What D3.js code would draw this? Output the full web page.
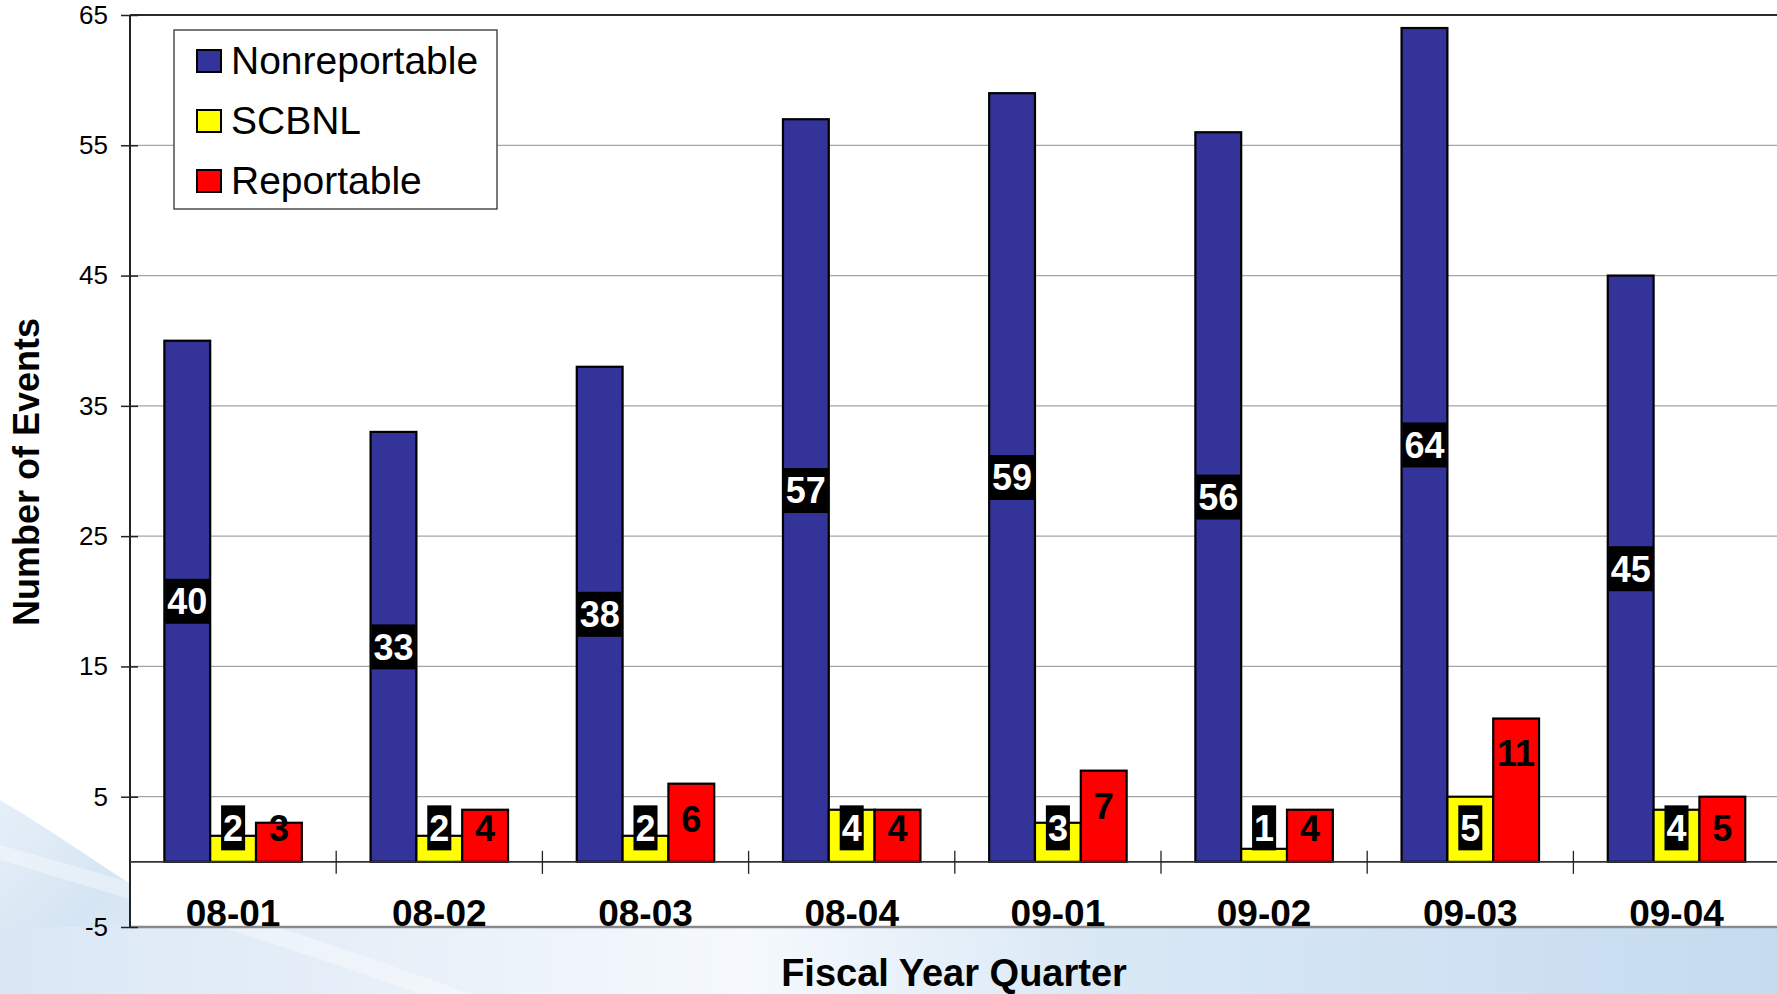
<!DOCTYPE html>
<html>
<head>
<meta charset="utf-8">
<script src="https://cdn.jsdelivr.net/npm/d3@7"></script>
<style>
html,body{margin:0;padding:0;background:#fff;overflow:hidden;}
svg{display:block;}
text{font-family:"Liberation Sans",Arial,sans-serif;}
</style>
</head>
<body>
<svg id="chart" width="1777" height="994"></svg>
<script>
const categories = ["08-01","08-02","08-03","08-04","09-01","09-02","09-03","09-04"];
const seriesNames = ["Nonreportable","SCBNL","Reportable"];
const nonreportable = [40,33,38,57,59,56,64,45];
const scbnl = [2,2,2,4,3,1,5,4];
const reportable = [3,4,6,4,7,4,11,5];
const yTicks = [-5,5,15,25,35,45,55,65];
const seriesColors = ["#333399","#FFFF00","#FF0000"];

(function(){
const W = 1777, H = 994;
const svg = d3.select("#chart");
const defs = svg.append("defs");

// background decoration
const g1 = defs.append("linearGradient").attr("id","bgBottom").attr("x1","0").attr("x2","1").attr("y1","0").attr("y2","0");
[["0%","#d9e7f5"],["25%","#eaf1f9"],["42%","#f5f9fd"],["62%","#d9e8f5"],["100%","#c6dbf0"]].forEach(s=>g1.append("stop").attr("offset",s[0]).attr("stop-color",s[1]));
const g2 = defs.append("linearGradient").attr("id","bgLeft").attr("x1","0").attr("x2","1").attr("y1","0").attr("y2","1");
[["0%","#e6eff8"],["50%","#d6e5f3"],["100%","#e9f1f9"]].forEach(s=>g2.append("stop").attr("offset",s[0]).attr("stop-color",s[1]));

svg.append("rect").attr("width",W).attr("height",H).attr("fill","#fff");
svg.append("path")
  .attr("d","M0,800 C60,835 120,880 200,927 L0,994 Z")
  .attr("fill","url(#bgLeft)");
svg.append("rect").attr("x",0).attr("y",927).attr("width",W).attr("height",H-927).attr("fill","url(#bgBottom)");
svg.append("path")
  .attr("d","M0,860 C150,905 300,950 420,994 L470,994 C340,945 180,895 0,845 Z")
  .attr("fill","#ffffff").attr("opacity",0.35);

const pLeft = 130, pRight = 1779.6, pTop = 15, pBottom = 927;

const y = d3.scaleLinear().domain([-5,65]).range([pBottom, pTop]);
const x0 = d3.scaleBand().domain(categories).range([pLeft, pRight]).paddingInner(1/3).paddingOuter(1/6);
const x1 = d3.scaleBand().domain(seriesNames).range([0, x0.bandwidth()]);
const step = x0.step();

// plot area
svg.append("rect").attr("x",pLeft).attr("y",pTop).attr("width",pRight-pLeft).attr("height",pBottom-pTop).attr("fill","#fff");

// gridlines
const gridG = svg.append("g");
yTicks.forEach(t=>{
  let stroke = "#a6a6a6", sw = 1.3;
  if (t === 65) { stroke = "#2a2a2a"; sw = 2; }
  if (t === -5) { stroke = "#8a8a8a"; sw = 2.5; }
  gridG.append("line").attr("x1",pLeft).attr("x2",pRight).attr("y1",y(t)).attr("y2",y(t))
    .attr("stroke",stroke).attr("stroke-width",sw);
});

// y axis
const yAxis = d3.axisLeft(y).tickValues(yTicks).tickSize(0).tickPadding(22).tickFormat(d=>String(d));
const yg = svg.append("g").attr("transform",`translate(${pLeft},0)`).call(yAxis);
yg.select(".domain").remove();
yg.selectAll("text").attr("font-size",26).attr("fill","#000").attr("font-family","'Liberation Sans',Arial,sans-serif");
yg.selectAll(".tick").append("line").attr("x1",-9).attr("x2",8).attr("stroke","#222").attr("stroke-width",1.5);
svg.append("line").attr("x1",pLeft).attr("x2",pLeft).attr("y1",pTop).attr("y2",pBottom).attr("stroke","#222").attr("stroke-width",2);

// bars
const data = categories.map((c,i)=>({cat:c, vals:[nonreportable[i], scbnl[i], reportable[i]]}));
const catG = svg.selectAll(".cat").data(data).enter().append("g")
  .attr("transform",d=>`translate(${x0(d.cat)},0)`);
catG.selectAll("rect").data(d=>d.vals.map((v,j)=>({v, s:seriesNames[j], j}))).enter().append("rect")
  .attr("x",d=>x1(d.s)).attr("width",x1.bandwidth())
  .attr("y",d=>y(d.v)).attr("height",d=>y(0)-y(d.v))
  .attr("fill",d=>seriesColors[d.j]).attr("stroke","#000").attr("stroke-width",2.2);

// zero line (category axis)
svg.append("line").attr("x1",pLeft).attr("x2",pRight).attr("y1",y(0)).attr("y2",y(0)).attr("stroke","#333").attr("stroke-width",1.6);
categories.forEach((c,i)=>{
  if (i===0) return;
  const bx = x0(c) - step*(1/3)/2;
  svg.append("line").attr("x1",bx).attr("x2",bx).attr("y1",y(0)-11).attr("y2",y(0)+12).attr("stroke","#222").attr("stroke-width",1.3);
});

// category labels
categories.forEach(c=>{
  svg.append("text").attr("x",x0(c)+x0.bandwidth()/2).attr("y",926)
    .attr("text-anchor","middle").attr("font-size",37).attr("font-weight","bold").text(c);
});

// data labels
const fs = 36, capHalf = 0.716*fs/2;
const labelG = svg.append("g");
data.forEach(d=>{
  d.vals.forEach((v,j)=>{
    const s = seriesNames[j];
    const cx = x0(d.cat) + x1(s) + x1.bandwidth()/2;
    let cy;
    if (j === 0) cy = y(v/2);
    else cy = Math.min(y(v) + 35, y(0) - 34);
    const boxed = j !== 2;
    const grp = labelG.append("g");
    const rect = boxed ? grp.append("rect").attr("fill","#000") : null;
    const t = grp.append("text").attr("x",cx).attr("y",cy+capHalf).attr("text-anchor","middle")
      .attr("font-size",fs).attr("font-weight","bold").attr("fill", j===2 ? "#000" : "#fff").text(v);
    if (boxed) {
      const bb = t.node().getBBox();
      const w = bb.width + 4;
      rect.attr("x",cx - w/2).attr("width",w).attr("y",cy-22.5).attr("height",45);
    }
  });
});

// legend
const lg = svg.append("g");
lg.append("rect").attr("x",174).attr("y",30).attr("width",323).attr("height",179)
  .attr("fill","#fff").attr("stroke","#333").attr("stroke-width",1.3);
seriesNames.forEach((s,i)=>{
  const cy = 61 + i*60;
  lg.append("rect").attr("x",197).attr("y",cy-11).attr("width",24).attr("height",22)
    .attr("fill",seriesColors[i]).attr("stroke","#000").attr("stroke-width",2);
  lg.append("text").attr("x",231).attr("y",cy+13).attr("font-size",39).attr("fill","#000").text(s);
});

// axis titles
svg.append("text").attr("transform","translate(26,472) rotate(-90)")
  .attr("text-anchor","middle").attr("dominant-baseline","central")
  .attr("font-size",36).attr("font-weight","bold").text("Number of Events");
svg.append("text").attr("x",954).attr("y",986).attr("text-anchor","middle")
  .attr("font-size",38).attr("font-weight","bold").text("Fiscal Year Quarter");
})();
</script>
</body>
</html>
